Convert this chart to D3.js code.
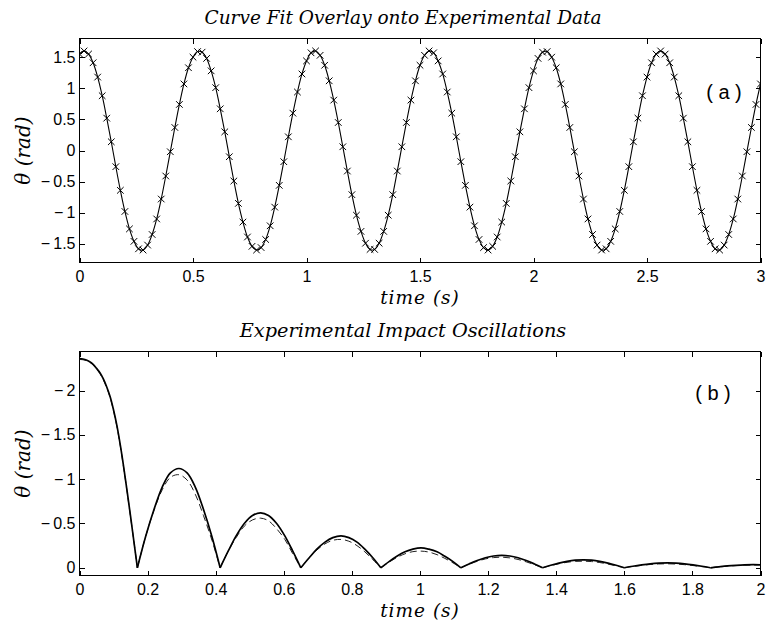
<!DOCTYPE html>
<html><head><meta charset="utf-8">
<script src="https://cdn.jsdelivr.net/npm/d3@7"></script>
<style>body{margin:0;background:#fff}</style>
</head><body>
<svg id="chart" width="771" height="626"></svg>
<script>
// ---------- Panel (a): curve fit overlay ----------
const sampleStepA = 0.02; // s between experimental samples
const thetaExp = [1.55,1.60,1.55,1.41,1.18,0.88,0.52,0.14,-0.26,-0.64,-0.98,-1.26,-1.46,-1.58,-1.60,-1.52,-1.35,-1.10,-0.78,-0.41,-0.02,0.37,0.74,1.07,1.33,1.50,1.59,1.58,1.48,1.28,1.01,0.67,0.30,-0.10,-0.49,-0.85,-1.15,-1.39,-1.54,-1.60,-1.56,-1.43,-1.21,-0.91,-0.56,-0.18,0.22,0.60,0.94,1.23,1.44,1.57,1.60,1.53,1.37,1.12,0.81,0.45,0.06,-0.33,-0.71,-1.04,-1.30,-1.49,-1.59,-1.59,-1.49,-1.30,-1.04,-0.71,-0.33,0.06,0.45,0.81,1.12,1.37,1.53,1.60,1.57,1.44,1.23,0.94,0.60,0.22,-0.18,-0.56,-0.91,-1.21,-1.43,-1.56,-1.60,-1.54,-1.39,-1.15,-0.85,-0.49,-0.10,0.30,0.67,1.01,1.28,1.48,1.58,1.59,1.50,1.33,1.07,0.74,0.37,-0.02,-0.41,-0.78,-1.10,-1.35,-1.52,-1.60,-1.58,-1.46,-1.26,-0.98,-0.64,-0.26,0.14,0.52,0.88,1.18,1.41,1.55,1.60,1.55,1.41,1.18,0.88,0.52,0.14,-0.26,-0.64,-0.98,-1.26,-1.46,-1.58,-1.60,-1.52,-1.35,-1.10,-0.78,-0.41,-0.02,0.37,0.74,1.07];
const thetaFit = [1.55,1.60,1.55,1.41,1.18,0.88,0.52,0.14,-0.26,-0.64,-0.98,-1.26,-1.46,-1.58,-1.60,-1.52,-1.35,-1.10,-0.78,-0.41,-0.02,0.37,0.74,1.07,1.33,1.50,1.59,1.58,1.48,1.28,1.01,0.67,0.30,-0.10,-0.49,-0.85,-1.15,-1.39,-1.54,-1.60,-1.56,-1.43,-1.21,-0.91,-0.56,-0.18,0.22,0.60,0.94,1.23,1.44,1.57,1.60,1.53,1.37,1.12,0.81,0.45,0.06,-0.33,-0.71,-1.04,-1.30,-1.49,-1.59,-1.59,-1.49,-1.30,-1.04,-0.71,-0.33,0.06,0.45,0.81,1.12,1.37,1.53,1.60,1.57,1.44,1.23,0.94,0.60,0.22,-0.18,-0.56,-0.91,-1.21,-1.43,-1.56,-1.60,-1.54,-1.39,-1.15,-0.85,-0.49,-0.10,0.30,0.67,1.01,1.28,1.48,1.58,1.59,1.50,1.33,1.07,0.74,0.37,-0.02,-0.41,-0.78,-1.10,-1.35,-1.52,-1.60,-1.58,-1.46,-1.26,-0.98,-0.64,-0.26,0.14,0.52,0.88,1.18,1.41,1.55,1.60,1.55,1.41,1.18,0.88,0.52,0.14,-0.26,-0.64,-0.98,-1.26,-1.46,-1.58,-1.60,-1.52,-1.35,-1.10,-0.78,-0.41,-0.02,0.37,0.74,1.07];
const xDomainA = [0, 3];
const yDomainA = [-1.8, 1.8];
const xTicksA = [0, 0.5, 1, 1.5, 2, 2.5, 3];
const yTicksA = [-1.5, -1, -0.5, 0, 0.5, 1, 1.5];
const titleA = "Curve Fit Overlay onto Experimental Data";
const tagA = "( a )";

// ---------- Panel (b): impact oscillations ----------
const impactTime = [0,0.01,0.02,0.03,0.04,0.05,0.06,0.07,0.08,0.09,0.10,0.11,0.12,0.13,0.14,0.15,0.16,0.17,
 0.194,0.219,0.243,0.267,0.292,0.316,0.340,0.364,0.389,0.413,
 0.437,0.460,0.484,0.508,0.532,0.555,0.579,0.603,0.626,0.650,
 0.674,0.697,0.721,0.744,0.768,0.791,0.815,0.838,0.862,0.885,
 0.909,0.932,0.956,0.979,1.003,1.026,1.050,1.073,1.097,1.120,
 1.144,1.168,1.192,1.216,1.240,1.264,1.288,1.312,1.336,1.360,
 1.384,1.408,1.432,1.456,1.480,1.504,1.528,1.552,1.576,1.600,
 1.625,1.651,1.676,1.701,1.727,1.752,1.777,1.802,1.828,1.853,
 1.878,1.903,1.928,1.953,1.978,2.000];
const thetaImpact = [-2.36,-2.355,-2.345,-2.325,-2.295,-2.25,-2.20,-2.13,-2.04,-1.93,-1.78,-1.60,-1.38,-1.13,-0.86,-0.58,-0.29,0,
 -0.35,-0.66,-0.91,-1.07,-1.12,-1.07,-0.91,-0.66,-0.35,0,
 -0.19,-0.36,-0.50,-0.59,-0.62,-0.59,-0.50,-0.36,-0.19,0,
 -0.11,-0.21,-0.29,-0.34,-0.36,-0.34,-0.29,-0.21,-0.11,0,
 -0.07,-0.13,-0.18,-0.21,-0.225,-0.21,-0.18,-0.13,-0.07,0,
 -0.043,-0.082,-0.113,-0.133,-0.14,-0.133,-0.113,-0.082,-0.043,0,
 -0.028,-0.053,-0.073,-0.086,-0.09,-0.086,-0.073,-0.053,-0.028,0,
 -0.017,-0.032,-0.044,-0.052,-0.055,-0.052,-0.044,-0.032,-0.017,0,
 -0.011,-0.021,-0.028,-0.033,-0.035,-0.034];
const thetaModel = [-2.35,-2.347,-2.338,-2.32,-2.29,-2.245,-2.19,-2.12,-2.03,-1.92,-1.77,-1.59,-1.37,-1.12,-0.85,-0.57,-0.29,0,
 -0.35,-0.65,-0.88,-1.02,-1.05,-0.99,-0.83,-0.59,-0.31,0,
 -0.19,-0.34,-0.47,-0.54,-0.56,-0.53,-0.44,-0.32,-0.16,0,
 -0.11,-0.20,-0.27,-0.31,-0.32,-0.30,-0.25,-0.18,-0.09,0,
 -0.063,-0.116,-0.158,-0.182,-0.188,-0.177,-0.148,-0.106,-0.055,0,
 -0.040,-0.073,-0.100,-0.115,-0.119,-0.112,-0.094,-0.067,-0.035,0,
 -0.025,-0.046,-0.062,-0.072,-0.074,-0.070,-0.059,-0.042,-0.022,0,
 -0.015,-0.027,-0.037,-0.043,-0.045,-0.042,-0.035,-0.025,-0.013,0,
 -0.010,-0.018,-0.025,-0.029,-0.030,-0.029];
const xDomainB = [0, 2];
const yDomainB = [0.087, -2.44]; // reversed axis: 0 near bottom, -2 near top
const xTicksB = [0, 0.2, 0.4, 0.6, 0.8, 1, 1.2, 1.4, 1.6, 1.8, 2];
const yTicksB = [-2, -1.5, -1, -0.5, 0];
const titleB = "Experimental Impact Oscillations";
const tagB = "( b )";

const xLabel = "time (s)";
const yLabel = "\u03B8 (rad)";

// ---------- drawing ----------
const svg = d3.select("#chart");
const SANS = "'Liberation Sans', Arial, Helvetica, sans-serif";
const SERIF = "'DejaVu Serif', serif";
const fmt = v => (v < 0 ? "\u2212\u2009" : "") + d3.format("")(Math.abs(v));

function panel(box, xDom, yDom, xTicks, yTicks, title, titleSize, tag, tagPos, id) {
  const x = d3.scaleLinear().domain(xDom).range([box.l, box.r]);
  const y = d3.scaleLinear().domain(yDom).range([box.b, box.t]);
  const g = svg.append("g");
  g.append("clipPath").attr("id", id).append("rect")
    .attr("x", box.l).attr("y", box.t).attr("width", box.r - box.l).attr("height", box.b - box.t);

  const tk = 5;
  const ax = (sel) => { sel.select(".domain").remove(); sel.selectAll("line").attr("stroke", "#000").attr("shape-rendering", "crispEdges"); };
  g.append("g").attr("transform", `translate(0,${box.b})`)
    .call(d3.axisBottom(x).tickValues(xTicks).tickSize(-tk).tickPadding(8).tickFormat(fmt))
    .call(ax).selectAll("text").attr("font-family", SANS).attr("font-size", 16).attr("fill", "#000");
  g.append("g").attr("transform", `translate(0,${box.t})`)
    .call(d3.axisTop(x).tickValues(xTicks).tickSize(-tk).tickFormat(""))
    .call(ax);
  g.append("g").attr("transform", `translate(${box.l},0)`)
    .call(d3.axisLeft(y).tickValues(yTicks).tickSize(-tk).tickPadding(4).tickFormat(fmt))
    .call(ax).selectAll("text").attr("font-family", SANS).attr("font-size", 16).attr("fill", "#000");
  g.append("g").attr("transform", `translate(${box.r},0)`)
    .call(d3.axisRight(y).tickValues(yTicks).tickSize(-tk).tickFormat(""))
    .call(ax);

  g.append("rect").attr("x", box.l).attr("y", box.t).attr("width", box.r - box.l).attr("height", box.b - box.t)
    .attr("fill", "none").attr("stroke", "#000").attr("stroke-width", 1).attr("shape-rendering", "crispEdges");

  const cx = 403;
  g.append("text").attr("x", cx).attr("y", box.t - 15).attr("text-anchor", "middle")
    .attr("font-family", SERIF).attr("font-style", "italic").attr("font-size", titleSize).text(title);
  g.append("text").attr("x", (box.l + box.r) / 2).attr("y", box.b + 41.5).attr("text-anchor", "middle")
    .attr("font-family", SERIF).attr("font-style", "italic").attr("font-size", 18.5)
    .attr("letter-spacing", 1).text(xLabel);
  g.append("text").attr("transform", `translate(30,${(box.t + box.b) / 2}) rotate(-90)`).attr("text-anchor", "middle")
    .attr("font-family", SERIF).attr("font-style", "italic").attr("font-size", 20).text(yLabel);
  g.append("text").attr("x", tagPos[0]).attr("y", tagPos[1]).attr("text-anchor", "middle")
    .attr("font-family", SANS).attr("font-size", 20).text(tag);
  return { x, y, g };
}

const boxA = { l: 79.5, r: 760.5, t: 38.5, b: 262.5 };
const A = panel(boxA, xDomainA, yDomainA, xTicksA, yTicksA, titleA, 18.5, tagA, [724, 99], "clipA");
const ptsA = thetaExp.map((v, i) => [i * sampleStepA, v]);
const fitA = thetaFit.map((v, i) => [i * sampleStepA, v]);
const plotA = A.g.append("g").attr("clip-path", "url(#clipA)");
plotA.append("path").datum(fitA)
  .attr("d", d3.line().x(d => A.x(d[0])).y(d => A.y(d[1])).curve(d3.curveCatmullRom.alpha(0.5)))
  .attr("fill", "none").attr("stroke", "#000").attr("stroke-width", 1.1);
plotA.selectAll("path.mk").data(ptsA).join("path").attr("class", "mk")
  .attr("transform", d => `translate(${A.x(d[0])},${A.y(d[1])})`)
  .attr("d", "M-3.3,-3.3L3.3,3.3M-3.3,3.3L3.3,-3.3")
  .attr("stroke", "#000").attr("stroke-width", 1);

const boxB = { l: 79.5, r: 760.5, t: 351.5, b: 575.5 };
const B = panel(boxB, xDomainB, yDomainB, xTicksB, yTicksB, titleB, 19.3, tagB, [713, 400], "clipB");

function arches(times, vals) {
  const segs = []; let cur = [];
  times.forEach((t, i) => {
    cur.push([t, vals[i]]);
    if (vals[i] === 0 && cur.length > 1) { segs.push(cur); cur = [[t, vals[i]]]; }
  });
  if (cur.length > 1) segs.push(cur);
  return segs;
}
const lineB = d3.line().x(d => B.x(d[0])).y(d => B.y(d[1])).curve(d3.curveCatmullRom.alpha(0.5));
const plotB = B.g.append("g").attr("clip-path", "url(#clipB)");
plotB.selectAll("path.model").data(arches(impactTime, thetaModel)).join("path").attr("class", "model")
  .attr("d", lineB).attr("fill", "none").attr("stroke", "#222").attr("stroke-width", 1)
  .attr("stroke-dasharray", "7,4");
plotB.selectAll("path.exp").data(arches(impactTime, thetaImpact)).join("path").attr("class", "exp")
  .attr("d", lineB).attr("fill", "none").attr("stroke", "#000").attr("stroke-width", 1.7)
  .attr("stroke-linejoin", "miter");
</script>
</body></html>
